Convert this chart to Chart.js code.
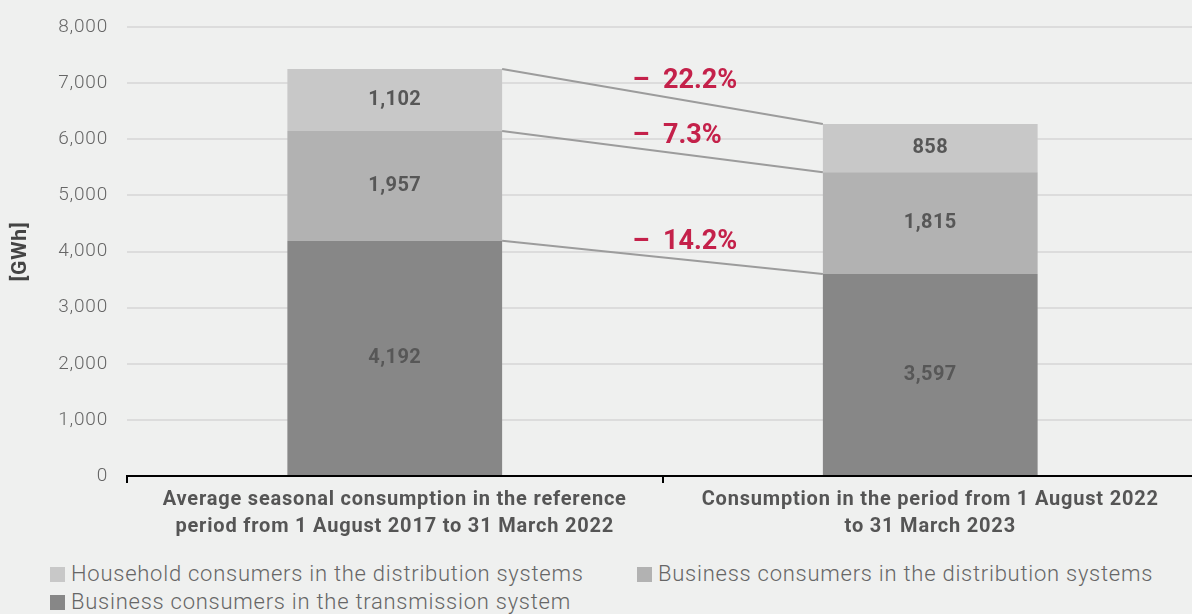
<!DOCTYPE html>
<html>
<head>
<meta charset="utf-8">
<script src="https://cdn.jsdelivr.net/npm/chart.js@4.4.1/dist/chart.umd.min.js"></script>
<style>
  html, body { margin: 0; padding: 0; background: #eff0ef; overflow: hidden; }
  #wrap { position: relative; width: 1192px; height: 614px; overflow: hidden; background: #eff0ef; }
  #box { position: absolute; left: 0; top: 0; width: 1198px; height: 550px; }
  #legend { position: absolute; left: 50px; top: 562px; display: grid; grid-template-columns: 587px auto; row-gap: 4px;
            font-family: Roboto, sans-serif; font-size: 22px; font-weight: 300; letter-spacing: 0.75px; color: #666; line-height: 24px; }
  .item { display: flex; align-items: center; white-space: nowrap; }
  .sw { width: 15px; height: 15px; margin-right: 6px; flex: none; }
</style>
</head>
<body>
<div id="wrap">
  <div id="box"><canvas id="consumptionChart"></canvas></div>
  <div id="legend"></div>
</div>
<script>
/* Gas consumption vs reference period */

const periods = [
  ['Average seasonal consumption in the reference', 'period from 1 August 2017 to 31 March 2022'],
  ['Consumption in the period from 1 August 2022', 'to 31 March 2023']
];
const transmission = [4192, 3597];
const businessDist = [1957, 1815];
const household = [1102, 858];
// bottom to top, one per connector line
const changeLabels = ['–  14.2%', '–  7.3%', '–  22.2%'];

const seriesNames = [
  'Business consumers in the transmission system',
  'Business consumers in the distribution systems',
  'Household consumers in the distribution systems'
];
const seriesColors = ['#878787', '#b2b2b2', '#c8c8c8'];

// the original font is a wide DIN, so space the letters a bit
const spacing = {
  id: 'spacing',
  beforeLayout(chart) { chart.ctx.letterSpacing = '0.8px'; },
  beforeDraw(chart) { chart.ctx.letterSpacing = '0.8px'; }
};

const barValues = {
  id: 'barValues',
  afterDatasetsDraw(chart) {
    const ctx = chart.ctx;
    ctx.save();
    ctx.letterSpacing = '0.4px';
    ctx.font = 'bold 20px Roboto';
    ctx.fillStyle = '#575757';
    ctx.textAlign = 'center';
    ctx.textBaseline = 'middle';
    chart.data.datasets.forEach((dataset, i) => {
      chart.getDatasetMeta(i).data.forEach((bar, index) => {
        ctx.fillText(dataset.data[index].toLocaleString('en-US'), bar.x, (bar.y + bar.base) / 2);
      });
    });
    ctx.restore();
  }
};

const connectors = {
  id: 'connectors',
  afterDatasetsDraw(chart) {
    const ctx = chart.ctx;
    chart.data.datasets.forEach((dataset, i) => {
      const a = chart.getDatasetMeta(i).data[0];
      const b = chart.getDatasetMeta(i).data[1];
      const x1 = a.x + a.width / 2;
      const x2 = b.x - b.width / 2;
      ctx.save();
      ctx.letterSpacing = '0px';
      ctx.strokeStyle = '#9c9c9c';
      ctx.lineWidth = 2;
      ctx.beginPath();
      ctx.moveTo(x1, a.y);
      ctx.lineTo(x2, b.y);
      ctx.stroke();
      ctx.font = 'bold 27px Roboto';
      ctx.fillStyle = '#c4214a';
      ctx.textAlign = 'left';
      ctx.textBaseline = 'middle';
      ctx.fillText(changeLabels[i], (x1 + x2) / 2 - 30, (a.y + b.y) / 2 - 15);
      ctx.restore();
    });
  }
};

const ctx = document.getElementById('consumptionChart');

const chart = new Chart(ctx, {
  type: 'bar',
  data: {
    labels: periods,
    datasets: [
      { label: seriesNames[0], data: transmission, backgroundColor: seriesColors[0] },
      { label: seriesNames[1], data: businessDist, backgroundColor: seriesColors[1] },
      { label: seriesNames[2], data: household, backgroundColor: seriesColors[2] }
    ]
  },
  options: {
    responsive: true,
    maintainAspectRatio: false,
    animation: false,
    barPercentage: 0.401,
    categoryPercentage: 1,
    layout: { padding: { top: 27, left: 0, right: 0, bottom: 0 } },
    plugins: {
      legend: { display: false },
      tooltip: { enabled: false }
    },
    scales: {
      x: {
        stacked: true,
        border: { color: '#000', width: 2 },
        grid: { drawOnChartArea: false, color: '#000', lineWidth: 2, tickLength: 7 },
        ticks: {
          color: '#555',
          font: { family: 'Roboto', size: 20, weight: 'bold', lineHeight: 1.36 },
          padding: 3,
          maxRotation: 0,
          autoSkip: false
        },
        afterFit(scale) { scale.height = 74; }
      },
      y: {
        stacked: true,
        min: 0,
        max: 8000,
        border: { display: false },
        // invisible tick marks give the gap between labels and plot
        grid: { color: '#dcdcdc', lineWidth: 2, drawTicks: true, tickLength: 19, tickColor: 'rgba(0,0,0,0)' },
        ticks: {
          stepSize: 1000,
          padding: 0,
          color: '#666',
          font: { family: 'Roboto', size: 19, weight: '300' },
          callback: v => v.toLocaleString('en-US')
        },
        title: {
          display: true,
          text: '[GWh]',
          color: '#444',
          font: { family: 'Roboto', size: 21, weight: 'bold' },
          padding: { top: 8, bottom: 0 }
        },
        afterFit(scale) { scale.width = 127; }
      }
    }
  },
  plugins: [spacing, barValues, connectors]
});

// legend, household first like the original
const legend = document.getElementById('legend');
[2, 1, 0].forEach(i => {
  const item = document.createElement('div');
  item.className = 'item';
  item.innerHTML = '<span class="sw" style="background:' + seriesColors[i] + '"></span><span>' + seriesNames[i] + '</span>';
  legend.appendChild(item);
});
</script>
</body>
</html>
